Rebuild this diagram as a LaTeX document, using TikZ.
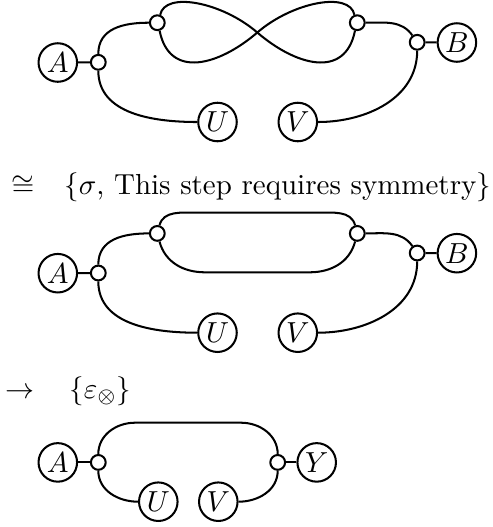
\documentclass[tikz,border=0pt]{standalone}
\usepackage{amsmath,amssymb}
\begin{document}
\begin{tikzpicture}[x=0.345pt,y=-0.345pt,
  every path/.style={line width=0.7pt},
  big/.style={circle,draw,minimum size=13.3pt,inner sep=0pt},
  dot/.style={circle,draw,minimum size=5.1pt,inner sep=0pt},
  txt/.style={inner sep=0pt}]
\useasboundingbox (0,0) rectangle (493,527);
% ---------- diagram 1 ----------
\node[big] (A1) at (57.8,62.5) {$A$};
\node[dot] (jA1) at (98.3,62.3) {};
\node[dot] (s1) at (157.3,22.7) {};
\node[dot] (s2) at (357.3,22.7) {};
\node[dot] (jB1) at (417.2,42.3) {};
\node[big] (B1) at (456.9,42.5) {$B$};
\node[big] (U1) at (217.5,122) {$U$};
\node[big] (V1) at (297.8,122) {$V$};
\coordinate (X1) at (257.3,32.5);
\draw (A1) -- (jA1);
\draw (jA1) to[out=90,in=180,looseness=1.1] (s1);
\draw (jA1) to[out=-90,in=180] (U1);
\draw (s2) to[out=0,in=125] (jB1);
\draw (jB1) -- (B1);
\draw (jB1) to[out=-90,in=0] (V1);
\draw (s1.70) .. controls (165,-9) and (222,2) .. (X1)
      .. controls (295,65) and (345,80) .. (s2.-106);
\draw (s1.-74) .. controls (169.6,80) and (219.6,65) .. (X1)
      .. controls (292.6,2) and (349.6,-9) .. (s2.110);
% ---------- relation 1 ----------
\node[txt,anchor=base east] (rel1) at (35.5,194) {$\cong$};
\node[txt,anchor=base west] (lab1) at (63.3,194) {$\{\sigma$, This step requires symmetry$\}$};
% ---------- diagram 2 ----------
\node[big] (A2) at (57.8,273.2) {$A$};
\node[dot] (jA2) at (98.3,273) {};
\node[dot] (t1) at (157.3,233.4) {};
\node[dot] (t2) at (357.3,233.4) {};
\node[dot] (jB2) at (417.2,253) {};
\node[big] (B2) at (456.9,253.2) {$B$};
\node[big] (U2) at (217.5,332.7) {$U$};
\node[big] (V2) at (297.8,332.7) {$V$};
\coordinate (T2a) at (197,212.7);
\coordinate (T2b) at (317.6,212.7);
\coordinate (B2a) at (205,272.3);
\coordinate (B2b) at (309.6,272.3);
\draw (A2) -- (jA2);
\draw (jA2) to[out=90,in=180,looseness=1.1] (t1);
\draw (jA2) to[out=-90,in=180] (U2);
\draw (t2) to[out=0,in=125] (jB2);
\draw (jB2) -- (B2);
\draw (jB2) to[out=-90,in=0] (V2);
\draw (t1) to[out=75,in=180] (T2a) -- (T2b) to[out=0,in=105] (t2);
\draw (t1) to[out=-75,in=180] (B2a) -- (B2b) to[out=0,in=-105] (t2);
% ---------- relation 2 ----------
\node[txt,anchor=base east] (rel2) at (35.5,398.5) {$\rightarrow$};
\node[txt,anchor=base west] (lab2) at (68.3,398.5) {$\{\varepsilon_\otimes\}$};
% ---------- diagram 3 ----------
\node[big] (A3) at (57.8,462.4) {$A$};
\node[dot] (jA3) at (98.3,462.4) {};
\node[dot] (jY) at (277.7,462.4) {};
\node[big] (Y3) at (316.7,462.4) {$Y$};
\node[big] (U3) at (158.3,501.7) {$U$};
\node[big] (V3) at (218.3,501.7) {$V$};
\coordinate (T3a) at (135,422.7);
\coordinate (T3b) at (241,422.7);
\draw (A3) -- (jA3);
\draw (jY) -- (Y3);
\draw (jA3) to[out=90,in=180] (T3a) -- (T3b) to[out=0,in=90] (jY);
\draw (jA3) to[out=-90,in=180] (U3);
\draw (V3) to[out=0,in=-90] (jY);
\end{tikzpicture}
\end{document}
